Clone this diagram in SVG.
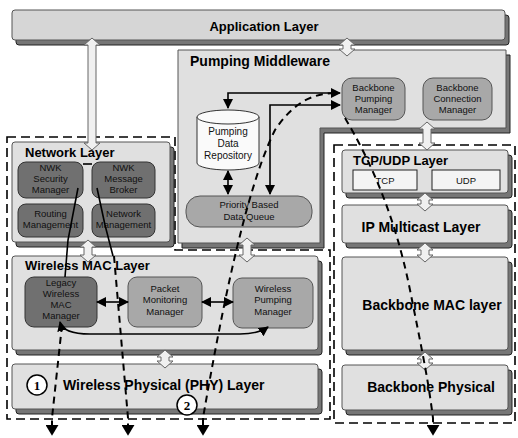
<svg xmlns="http://www.w3.org/2000/svg" width="518" height="438" viewBox="0 0 518 438">
<defs>
<style>
.face{fill:#e0e0e0;stroke:#555;stroke-width:1}
.side{fill:#767676;stroke:#222;stroke-width:1}
.title{font-family:"Liberation Sans",Arial,sans-serif;font-weight:bold;font-size:13px;fill:#000}
.big{font-size:14px}
.lbl{font-family:"Liberation Sans",Arial,sans-serif;font-size:9.5px;fill:#111;text-anchor:middle}
.dark{fill:#707070;stroke:#333;stroke-width:1}
.mid{fill:#a8a8a8;stroke:#555;stroke-width:1}
.white{fill:#f4f4f4;stroke:#222;stroke-width:1}
.hollow{fill:#f0f0f0;stroke:#666;stroke-width:1}
.conn{fill:none;stroke:#000;stroke-width:1.6}
.dash{fill:none;stroke:#000;stroke-width:2;stroke-dasharray:7 5}
.grp{fill:none;stroke:#000;stroke-width:1.6;stroke-dasharray:9 5}
.num{font-family:"Liberation Serif","Times New Roman",serif;font-weight:bold;font-size:13px;text-anchor:middle}
</style>
<marker id="ah" viewBox="0 0 10 10" refX="9" refY="5" markerWidth="10" markerHeight="10" markerUnits="userSpaceOnUse" orient="auto-start-reverse"><path d="M0,0 L10,5 L0,10 Z" fill="#000"/></marker>
<marker id="ahb" viewBox="0 0 10 12" refX="1" refY="6" markerWidth="11" markerHeight="13" markerUnits="userSpaceOnUse" orient="auto"><path d="M0,0 L10,6 L0,12 Z" fill="#000"/></marker>
</defs>
<rect width="518" height="438" fill="#fff"/>

<!-- group boundaries -->
<g id="groups">
<path class="grp" d="M7,137 H175 V250 H330 V419 H7 Z"/>
<rect class="grp" x="334" y="145" width="181" height="278"/>
</g>

<g id="application-layer">
<rect class="side" x="16" y="15" width="493" height="30" rx="3"/>
<rect class="face" x="12" y="10" width="493" height="30" rx="3" style="fill:#d6d6d6"/>
<text class="title" x="264" y="31" text-anchor="middle">Application Layer</text>
</g>

<g id="pumping-middleware">
<path class="side" d="M182,55 H510 V133 H324 V248 H182 Z"/>
<path class="face" d="M178,50 H506 V128 H320 V243 H178 Z"/>
<text class="title big" x="190" y="66">Pumping Middleware</text>
</g>

<g id="network-layer">
<rect class="side" x="16" y="147" width="158" height="100" rx="3"/>
<rect class="face" x="12" y="142" width="158" height="100" rx="3"/>
<text class="title" x="25" y="157">Network Layer</text>
</g>

<g id="wireless-mac-layer">
<rect class="side" x="16" y="261" width="306" height="94" rx="3"/>
<rect class="face" x="12" y="256" width="306" height="94" rx="3"/>
<text class="title" x="25" y="270">Wireless MAC Layer</text>
</g>

<g id="wireless-phy-layer">
<rect class="side" x="16" y="369" width="306" height="45" rx="3"/>
<rect class="face" x="12" y="364" width="306" height="45" rx="3"/>
<text class="title big" x="63" y="390">Wireless Physical (PHY) Layer</text>
</g>

<g id="tcp-udp-layer">
<rect class="side" x="346" y="155" width="166" height="43" rx="3"/>
<rect class="face" x="342" y="150" width="166" height="43" rx="3"/>
<text class="title" x="353" y="165">TCP/UDP Layer</text>
</g>

<g id="ip-multicast-layer">
<rect class="side" x="346" y="210" width="166" height="38" rx="3"/>
<rect class="face" x="342" y="205" width="166" height="38" rx="3"/>
<text class="title big" x="421" y="232" text-anchor="middle">IP Multicast Layer</text>
</g>

<g id="backbone-mac-layer">
<rect class="side" x="346" y="262" width="166" height="93" rx="3"/>
<rect class="face" x="342" y="257" width="166" height="93" rx="3"/>
<text class="title big" x="432" y="310" text-anchor="middle">Backbone MAC layer</text>
</g>

<g id="backbone-physical">
<rect class="side" x="346" y="370" width="166" height="45" rx="3"/>
<rect class="face" x="342" y="365" width="166" height="45" rx="3"/>
<text class="title big" x="431" y="392" text-anchor="middle">Backbone Physical</text>
</g>

<!-- hollow layer arrows -->
<g id="layer-arrows">
<path class="hollow" d="M92,38 L100,45 L96,45 L96,143 L100,143 L92,150 L84,143 L88,143 L88,45 L84,45 Z"/>
<path class="hollow" d="M347,38 L355,45 L351,45 L351,49 L355,49 L347,56 L339,49 L343,49 L343,45 L339,45 Z"/>
<path class="hollow" d="M427,122 L435,129 L431,129 L431,143 L435,143 L427,150 L419,143 L423,143 L423,129 L419,129 Z"/>
<path class="hollow" d="M88,240 L96,247 L92,247 L92,255 L96,255 L88,262 L80,255 L84,255 L84,247 L80,247 Z"/>
<path class="hollow" d="M247,238 L255,245 L251,245 L251,255 L255,255 L247,262 L239,255 L243,255 L243,245 L239,245 Z"/>
<path class="hollow" d="M165,350 L173,357 L169,357 L169,361 L173,361 L165,368 L157,361 L161,361 L161,357 L157,357 Z"/>
<path class="hollow" d="M425,193 L433,200 L429,200 L429,204 L433,204 L425,211 L417,204 L421,204 L421,200 L417,200 Z"/>
<path class="hollow" d="M425,243 L433,250 L429,250 L429,255 L433,255 L425,262 L417,255 L421,255 L421,250 L417,250 Z"/>
<path class="hollow" d="M425,352 L433,359 L429,359 L429,363 L433,363 L425,370 L417,363 L421,363 L421,359 L417,359 Z"/>
</g>

<!-- inner nodes -->
<g id="backbone-pumping-manager">
<rect class="mid" x="342" y="78" width="63" height="42" rx="10"/>
<text class="lbl" x="373.5" y="91">Backbone</text>
<text class="lbl" x="373.5" y="102">Pumping</text>
<text class="lbl" x="373.5" y="113">Manager</text>
</g>
<g id="backbone-connection-manager">
<rect class="mid" x="423" y="78" width="69" height="42" rx="10"/>
<text class="lbl" x="457.5" y="91">Backbone</text>
<text class="lbl" x="457.5" y="102">Connection</text>
<text class="lbl" x="457.5" y="113">Manager</text>
</g>
<g id="pumping-data-repository">
<path d="M197,117 V163 A31,7 0 0 0 259,163 V117" fill="#fafafa" stroke="#333" stroke-width="1"/>
<ellipse cx="228" cy="117" rx="31" ry="7" fill="#fafafa" stroke="#333" stroke-width="1"/>
<text class="lbl" x="228" y="135" style="font-size:10px">Pumping</text>
<text class="lbl" x="228" y="147" style="font-size:10px">Data</text>
<text class="lbl" x="228" y="159" style="font-size:10px">Repository</text>
</g>
<g id="priority-queue">
<rect class="mid" x="186" y="196" width="126" height="31" rx="14"/>
<text class="lbl" x="249" y="208">Priority Based</text>
<text class="lbl" x="249" y="220">Data Queue</text>
</g>
<g id="nwk-security-manager">
<rect class="dark" x="18" y="162" width="65" height="36" rx="8"/>
<text class="lbl" x="50.5" y="171">NWK</text>
<text class="lbl" x="50.5" y="182">Security</text>
<text class="lbl" x="50.5" y="193">Manager</text>
</g>
<g id="nwk-message-broker">
<rect class="dark" x="92" y="162" width="63" height="36" rx="8"/>
<text class="lbl" x="123.5" y="171">NWK</text>
<text class="lbl" x="123.5" y="182">Message</text>
<text class="lbl" x="123.5" y="193">Broker</text>
</g>
<g id="routing-management">
<rect class="dark" x="18" y="204" width="65" height="33" rx="8"/>
<text class="lbl" x="50.5" y="217">Routing</text>
<text class="lbl" x="50.5" y="228">Management</text>
</g>
<g id="network-management">
<rect class="dark" x="92" y="204" width="63" height="33" rx="8"/>
<text class="lbl" x="123.5" y="217">Network</text>
<text class="lbl" x="123.5" y="228">Management</text>
</g>
<g id="legacy-wireless-mac-manager">
<rect class="dark" x="25" y="277" width="72" height="50" rx="9"/>
<text class="lbl" x="61" y="286">Legacy</text>
<text class="lbl" x="61" y="297">Wireless</text>
<text class="lbl" x="61" y="308">MAC</text>
<text class="lbl" x="61" y="319">Manager</text>
</g>
<g id="packet-monitoring-manager">
<rect class="mid" x="128" y="277" width="74" height="50" rx="9"/>
<text class="lbl" x="165" y="292">Packet</text>
<text class="lbl" x="165" y="303">Monitoring</text>
<text class="lbl" x="165" y="315">Manager</text>
</g>
<g id="wireless-pumping-manager">
<rect class="mid" x="233" y="278" width="80" height="50" rx="9"/>
<text class="lbl" x="273" y="292">Wireless</text>
<text class="lbl" x="273" y="303">Pumping</text>
<text class="lbl" x="273" y="315">Manager</text>
</g>
<g id="tcp">
<rect class="white" x="353" y="170" width="64" height="20"/>
<text class="lbl" x="385" y="184">TCP</text>
</g>
<g id="udp">
<rect class="white" x="432" y="170" width="68" height="20"/>
<text class="lbl" x="466" y="184">UDP</text>
</g>

<!-- connectors -->
<g id="connectors">
<path class="conn" d="M340,93 H228 V108" marker-start="url(#ah)" marker-end="url(#ah)"/>
<path class="conn" d="M340,105 H270 V194" marker-start="url(#ah)" marker-end="url(#ah)"/>
<path class="conn" d="M228,171 V194" marker-start="url(#ah)" marker-end="url(#ah)"/>
<path class="conn" d="M97,302 H128" marker-start="url(#ah)" marker-end="url(#ah)"/>
<path class="conn" d="M202,302 H233" marker-start="url(#ah)" marker-end="url(#ah)"/>
<path class="conn" d="M60,322 Q63,334 90,334 L240,334 Q258,334 268,327" marker-start="url(#ah)" marker-end="url(#ah)"/>
<path class="conn" d="M83,164 H92"/>
<path class="conn" d="M65,277 L68,240 L78,188"/>
<path class="conn" d="M113,256 L105,225 L97,188"/>
<path class="dash" d="M62,325 L52,418 V426" marker-end="url(#ahb)"/>
<path class="dash" d="M114,256 L128,418 V426" marker-end="url(#ahb)"/>
<path class="dash" d="M203,426 V418 C220,320 245,190 275,130 C295,100 315,93 338,93"/>
<path class="dash" d="M203,418 V426" marker-end="url(#ahb)"/>
<path class="dash" d="M345,118 C370,160 395,215 410,290 S428,380 433,418 V426" marker-end="url(#ahb)"/>
</g>

<g id="marker-1">
<circle cx="37" cy="385" r="10" fill="#fff" stroke="#000" stroke-width="1.5"/>
<text class="num" x="37" y="390">1</text>
</g>
<g id="marker-2">
<circle cx="187" cy="405" r="10" fill="#fff" stroke="#000" stroke-width="1.5"/>
<text class="num" x="187" y="410">2</text>
</g>
</svg>
